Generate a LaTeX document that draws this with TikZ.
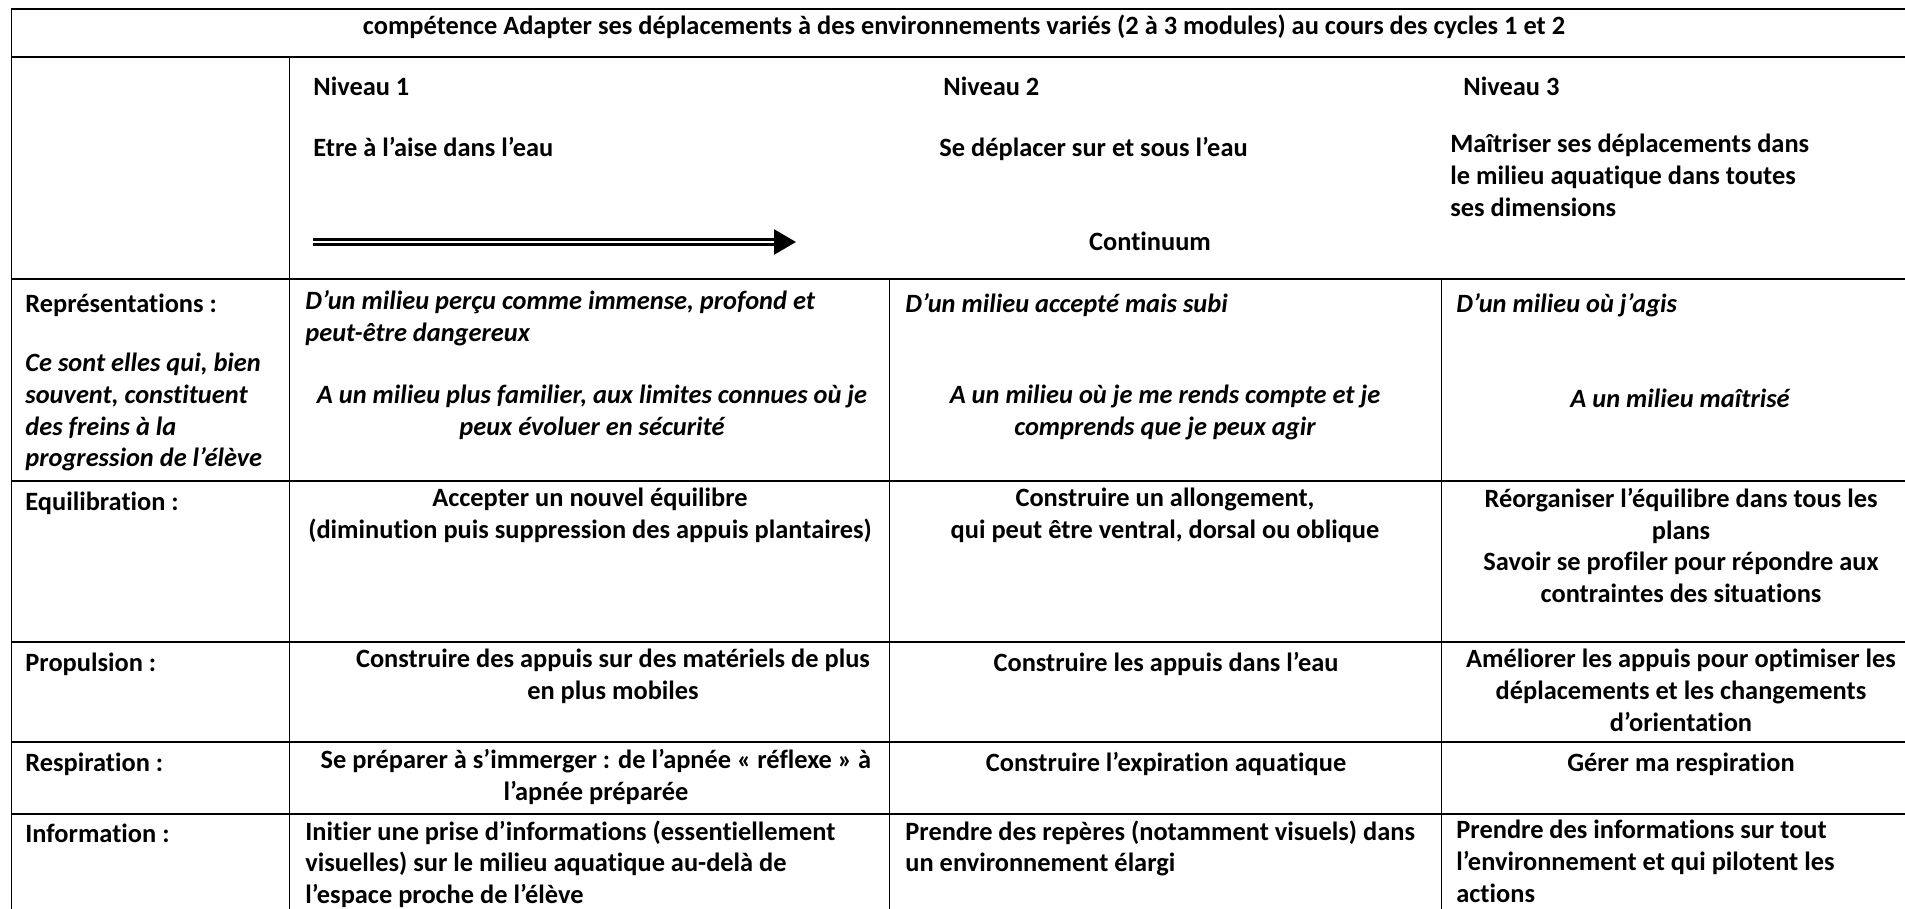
\documentclass[tikz,border=0pt]{standalone}
\usepackage{fontspec}
\setmainfont{Carlito}[Ligatures=NoCommon]
\usetikzlibrary{arrows.meta}
\newcommand\cellfont{\fontsize{13.2}{15.8}\selectfont\bfseries}
\tikzstyle{Cell}=[inner sep=0pt, font=\cellfont, execute at begin node=\strut]
\tikzstyle{Lcell}=[Cell, anchor=north west, align=left]
\tikzstyle{Ccell}=[Cell, anchor=north, align=center]
\tikzstyle{Ital}=[font=\cellfont\itshape]
\tikzstyle{Hline}=[line width=1pt]
\tikzstyle{Vline}=[line width=0.5pt]

\begin{document}
\begin{tikzpicture}[x=0.5pt, y=-0.5pt]
    \useasboundingbox (0,0) rectangle (1905,909);

    \draw[Hline] (11,9) -- (1905,9);
    \draw[Hline] (11,57) -- (1905,57);
    \draw[Hline] (11,279) -- (1905,279);
    \draw[Hline] (11,481) -- (1905,481);
    \draw[Hline] (11,642) -- (1905,642);
    \draw[Hline] (11,742) -- (1905,742);
    \draw[Hline] (11,814) -- (1905,814);
    \draw[Vline] (11,9) -- (11,909);
    \draw[Vline] (289,57) -- (289,909);
    \draw[Vline] (889,279) -- (889,909);
    \draw[Vline] (1441,279) -- (1441,909);

    \path
    (964,12) node[Ccell] (title) {compétence Adapter ses déplacements à des environnements variés (2 à 3 modules) au cours des cycles 1 et 2};

    \path
    (313,73) node[Lcell] (niv1) {Niveau 1}
    (943,73) node[Lcell] (niv2) {Niveau 2}
    (1463,73) node[Lcell] (niv3) {Niveau 3}
    (313,134) node[Lcell] (but1) {Etre à l’aise dans l’eau}
    (939,134) node[Lcell] (but2) {Se déplacer sur et sous l’eau}
    (1450,134) node[Lcell] (but3) {Maîtriser ses déplacements dans\\le milieu aquatique dans toutes\\ses dimensions}
    (1150,228) node[Ccell] (cont) {Continuum};

    \coordinate (arrS) at (313,242);
    \coordinate (arrE) at (796,242);
    \draw[line width=1.3pt, double, double distance=1.1pt, -{Triangle[length=11pt, width=12.5pt]}] (arrS) -- (arrE);

    \path
    (25,290) node[Lcell] (repT) {Représentations :}
    (25,353) node[Lcell, Ital] (repN) {Ce sont elles qui, bien\\souvent, constituent\\des freins à la\\progression de l’élève}
    (305,290) node[Lcell, Ital] (rep1a) {D’un milieu perçu comme immense, profond et\\peut-être dangereux}
    (592,385) node[Ccell, Ital] (rep1b) {A un milieu plus familier, aux limites connues où je\\peux évoluer en sécurité}
    (905,290) node[Lcell, Ital] (rep2a) {D’un milieu accepté mais subi}
    (1165,385) node[Ccell, Ital] (rep2b) {A un milieu où je me rends compte et je\\comprends que je peux agir}
    (1456,290) node[Lcell, Ital] (rep3a) {D’un milieu où j’agis}
    (1680,385) node[Ccell, Ital] (rep3b) {A un milieu maîtrisé};

    \path
    (25,488) node[Lcell] (equT) {Equilibration :}
    (590,488) node[Ccell] (equ1) {Accepter un nouvel équilibre\\(diminution puis suppression des appuis plantaires)}
    (1165,488) node[Ccell] (equ2) {Construire un allongement,\\qui peut être ventral, dorsal ou oblique}
    (1681,488) node[Ccell] (equ3) {Réorganiser l’équilibre dans tous les\\plans\\Savoir se profiler pour répondre aux\\contraintes des situations};

    \path
    (25,649) node[Lcell] (proT) {Propulsion :}
    (613,649) node[Ccell] (pro1) {Construire des appuis sur des matériels de plus\\en plus mobiles}
    (1166,649) node[Ccell] (pro2) {Construire les appuis dans l’eau}
    (1681,649) node[Ccell] (pro3) {Améliorer les appuis pour optimiser les\\déplacements et les changements\\d’orientation};

    \path
    (25,749) node[Lcell] (resT) {Respiration :}
    (596,749) node[Ccell] (res1) {Se préparer à s’immerger : de l’apnée « réflexe » à\\l’apnée préparée}
    (1166,749) node[Ccell] (res2) {Construire l’expiration aquatique}
    (1681,749) node[Ccell] (res3) {Gérer ma respiration};

    \path
    (25,820) node[Lcell] (infT) {Information :}
    (305,820) node[Lcell] (inf1) {Initier une prise d’informations (essentiellement\\visuelles) sur le milieu aquatique au-delà de\\l’espace proche de l’élève}
    (905,820) node[Lcell] (inf2) {Prendre des repères (notamment visuels) dans\\un environnement élargi}
    (1456,820) node[Lcell] (inf3) {Prendre des informations sur tout\\l’environnement et qui pilotent les\\actions};
\end{tikzpicture}
\end{document}
